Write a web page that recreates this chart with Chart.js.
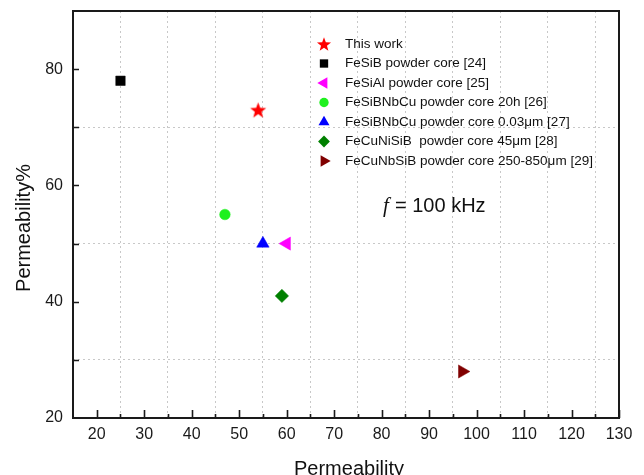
<!DOCTYPE html>
<html>
<head>
<meta charset="utf-8">
<script src="https://cdn.jsdelivr.net/npm/chart.js@4.4.1/dist/chart.umd.min.js"></script>
<style>
  html, body { margin: 0; padding: 0; background: #ffffff; }
  #chartBox { width: 644px; height: 475px; position: relative; }
</style>
</head>
<body>
<div id="chartBox"><canvas id="permeabilityChart"></canvas></div>
<script>
// Data, one point per material
const seriesLabels = [
    'This work',
    'FeSiB powder core [24]',
    'FeSiAl powder core [25]',
    'FeSiBNbCu powder core 20h [26]',
    'FeSiBNbCu powder core 0.03μm [27]',
    'FeCuNiSiB  powder core 45μm [28]',
    'FeCuNbSiB powder core 250-850μm [29]'
];
const permeabilityValues = [54, 25, 60, 47, 55, 59, 97];
const permeabilityPercent = [73, 78, 50, 55, 50, 41, 28];

// Tick labels
const xTickLabels = [20, 30, 40, 50, 60, 70, 80, 90, 100, 110, 120, 130];
const yTickLabels = [20, 40, 60, 80];

// Marker look per series
const markerColors = ['#ff0000', '#000000', '#ff00ff', '#1ff01f', '#0000ff', '#008000', '#800000'];
const markerShapes = ['star', 'rect', 'triangle', 'circle', 'triangle', 'rectRot', 'triangle'];
const markerRotations = [0, 0, -90, 0, 0, 0, 90];
const markerSizes = [8.4, 6.7, 7.6, 5.3, 7.2, 6.7, 7.6];

const FONT = "'Liberation Sans', Arial, sans-serif";

// filled five point star (chart.js 'star' is only an asterisk)
function traceStar(ctx, cx, cy, outer, inner) {
    ctx.beginPath();
    for (let i = 0; i < 10; i++) {
        const r = i % 2 === 0 ? outer : inner;
        const a = -Math.PI / 2 + i * Math.PI / 5;
        const px = cx + Math.cos(a) * r;
        const py = cy + Math.sin(a) * r;
        if (i === 0) ctx.moveTo(px, py); else ctx.lineTo(px, py);
    }
    ctx.closePath();
}

function makeStarImage(outer, color) {
    const c = document.createElement('canvas');
    const s = Math.ceil(outer * 2 + 2);
    c.width = s;
    c.height = s;
    const g = c.getContext('2d');
    g.fillStyle = color;
    traceStar(g, s / 2, s / 2 + outer * 0.1, outer, outer * 0.42);
    g.fill();
    return c;
}

// small marker painter for the legend
function drawLegendMarker(ctx, shape, x, y, r, rotation, color) {
    ctx.save();
    ctx.fillStyle = color;
    ctx.translate(x, y);
    ctx.rotate(rotation * Math.PI / 180);
    ctx.beginPath();
    if (shape === 'star') {
        traceStar(ctx, 0, r * 0.1, r, r * 0.42);
    } else if (shape === 'rect') {
        const h = r * Math.SQRT1_2;
        ctx.rect(-h, -h, 2 * h, 2 * h);
    } else if (shape === 'rectRot') {
        ctx.moveTo(0, -r); ctx.lineTo(r, 0); ctx.lineTo(0, r); ctx.lineTo(-r, 0);
        ctx.closePath();
    } else if (shape === 'circle') {
        ctx.arc(0, 0, r, 0, Math.PI * 2);
    } else {
        for (let i = 0; i < 3; i++) {
            const a = i * 2 * Math.PI / 3;
            const px = Math.sin(a) * r;
            const py = -Math.cos(a) * r;
            if (i === 0) ctx.moveTo(px, py); else ctx.lineTo(px, py);
        }
        ctx.closePath();
    }
    ctx.fill();
    ctx.restore();
}

const datasets = seriesLabels.map((label, i) => ({
    label: label,
    data: [{ x: permeabilityValues[i], y: permeabilityPercent[i] }],
    pointStyle: markerShapes[i] === 'star' ? makeStarImage(markerSizes[i], markerColors[i]) : markerShapes[i],
    pointRadius: markerSizes[i],
    pointHoverRadius: markerSizes[i],
    pointRotation: markerRotations[i],
    pointBackgroundColor: markerColors[i],
    pointBorderColor: markerColors[i],
    pointBorderWidth: 0.5
}));

// Box, inward ticks, axis titles, legend and the frequency note
const frameAndLabelsPlugin = {
    id: 'frameAndLabels',
    afterDraw(chart) {
        const { ctx, chartArea: { left, right, top, bottom } } = chart;
        const xs = chart.scales.x;
        const ys = chart.scales.y;
        ctx.save();

        // inward tick marks
        ctx.strokeStyle = '#1a1a1a';
        ctx.lineWidth = 1.6;
        ctx.beginPath();
        for (let v = 20; v <= 130; v += 5) {
            const px = Math.round(xs.getPixelForValue(v)) + 0.5;
            const len = v % 10 === 0 ? 8 : 4;
            ctx.moveTo(px, bottom);
            ctx.lineTo(px, bottom - len);
        }
        for (let v = 30; v <= 80; v += 10) {
            const py = Math.round(ys.getPixelForValue(v)) + 0.5;
            ctx.moveTo(left, py);
            ctx.lineTo(left + 6, py);
        }
        ctx.stroke();

        // plot frame
        ctx.lineWidth = 2;
        ctx.strokeRect(left, top, right - left, bottom - top);

        // axis titles
        ctx.fillStyle = '#111111';
        ctx.font = '20px ' + FONT;
        ctx.textAlign = 'center';
        ctx.textBaseline = 'middle';
        ctx.fillText('Permeability', 349, 469);
        ctx.save();
        ctx.translate(24, 228);
        ctx.rotate(-Math.PI / 2);
        ctx.fillText('Permeability%', 0, 0);
        ctx.restore();

        // legend
        ctx.font = '13.5px ' + FONT;
        ctx.textAlign = 'left';
        seriesLabels.forEach((label, i) => {
            const ly = 44 + i * 19.5;
            drawLegendMarker(ctx, markerShapes[i], 324, ly, markerSizes[i] * 0.88, markerRotations[i], markerColors[i]);
            ctx.fillStyle = '#111111';
            ctx.fillText(label, 345, ly);
        });

        // f = 100 kHz
        ctx.textBaseline = 'alphabetic';
        ctx.font = 'italic 21px "Liberation Serif", "Times New Roman", serif';
        ctx.fillText('f', 383, 211.5);
        ctx.font = '20px ' + FONT;
        ctx.fillText('= 100 kHz', 395, 211.5);

        ctx.restore();
    }
};

const scatterConfig = {
    type: 'scatter',
    data: { datasets: datasets },
    options: {
        responsive: true,
        maintainAspectRatio: false,
        animation: false,
        events: [],
        layout: {
            padding: { left: 0, top: 11, right: 25, bottom: 0 }
        },
        plugins: {
            legend: { display: false },
            tooltip: { enabled: false }
        },
        scales: {
            x: {
                type: 'linear',
                min: 15,
                max: 130,
                ticks: {
                    stepSize: 5,
                    maxTicksLimit: 100,
                    autoSkip: false,
                    maxRotation: 0,
                    padding: 7,
                    color: '#1a1a1a',
                    font: { family: FONT, size: 16 },
                    callback: (value) => xTickLabels.includes(value) ? String(value) : ''
                },
                grid: {
                    drawTicks: false,
                    lineWidth: 1,
                    color: (c) => (c.tick && c.tick.value % 10 === 5 && c.tick.value > 15) ? '#c8c8c8' : 'rgba(0,0,0,0)'
                },
                border: { display: false, dash: [2, 3] },
                afterFit: (scale) => {
                    scale.height = 57;
                    scale.paddingLeft = 0;
                    scale.paddingRight = 0;
                }
            },
            y: {
                type: 'linear',
                min: 20,
                max: 90,
                ticks: {
                    stepSize: 10,
                    maxTicksLimit: 100,
                    autoSkip: false,
                    padding: 10,
                    color: '#1a1a1a',
                    font: { family: FONT, size: 16 },
                    callback: (value) => yTickLabels.includes(value) ? String(value) : ''
                },
                grid: {
                    drawTicks: false,
                    lineWidth: 1,
                    color: (c) => (c.tick && c.tick.value % 20 === 10 && c.tick.value < 90) ? '#c8c8c8' : 'rgba(0,0,0,0)'
                },
                border: { display: false, dash: [2, 3] },
                afterFit: (scale) => {
                    scale.width = 73;
                    scale.paddingTop = 0;
                    scale.paddingBottom = 0;
                }
            }
        }
    },
    plugins: [frameAndLabelsPlugin]
};

const permeabilityChart = new Chart(
    document.getElementById('permeabilityChart'),
    scatterConfig
);
</script>
</body>
</html>
